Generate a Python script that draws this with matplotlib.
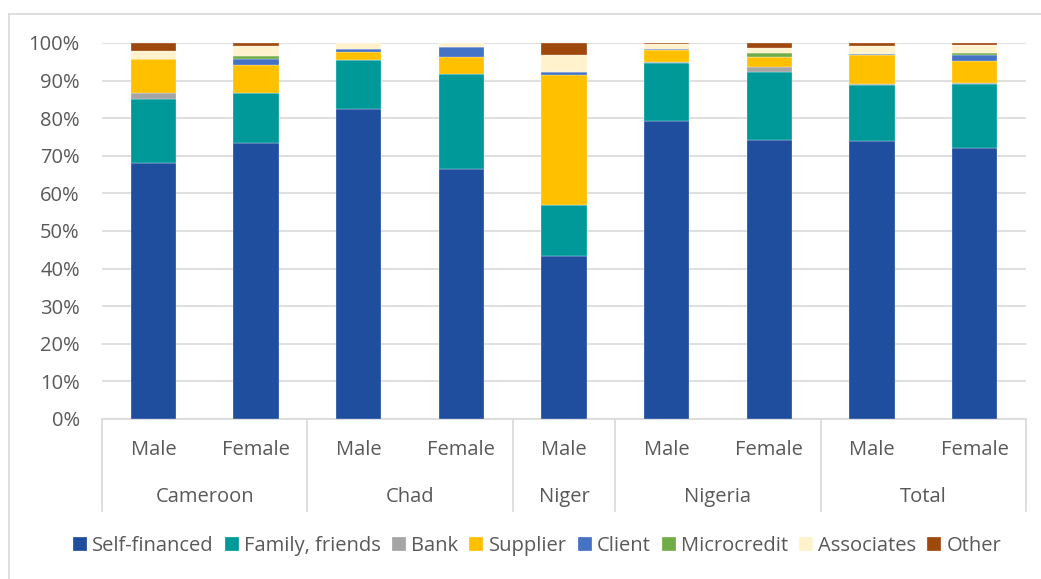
import numpy as np
import matplotlib
matplotlib.use("Agg")
import matplotlib.pyplot as plt
from matplotlib.transforms import blended_transform_factory

plt.rcParams['font.family'] = ['Open Sans', 'DejaVu Sans']

countries = ["Cameroon", "Chad", "Niger", "Nigeria", "Total"]
genders = ["Male", "Female", "Male", "Female", "Male", "Male", "Female", "Male", "Female"]
group_sizes = [2, 2, 1, 2, 2]

sources = ["Self-financed", "Family, friends", "Bank", "Supplier", "Client",
           "Microcredit", "Associates", "Other"]
colors = ["#1F4E9F", "#00999A", "#A5A5A5", "#FFC000", "#4472C4",
          "#70AD47", "#FFF2CC", "#9E480E"]

# percent per bar: Cam M, Cam F, Chad M, Chad F, Niger M, Nig M, Nig F, Tot M, Tot F
self_fin   = [68.0, 73.3, 82.5, 66.5, 43.3, 79.3, 74.3, 74.0, 72.0]
family     = [17.0, 13.3, 13.0, 25.2, 13.7, 15.5, 18.0, 14.9, 17.2]
bank       = [1.6, 0.0, 0.0, 0.0, 0.0, 0.2, 1.3, 0.3, 0.2]
supplier   = [9.1, 7.6, 2.1, 4.7, 34.6, 3.2, 2.6, 7.6, 5.8]
client     = [0.0, 1.6, 0.7, 2.5, 0.7, 0.3, 0.0, 0.4, 1.5]
microcred  = [0.0, 0.7, 0.0, 0.0, 0.0, 0.0, 1.2, 0.0, 0.7]
associates = [2.2, 2.8, 1.7, 1.1, 4.5, 1.3, 1.4, 2.0, 2.0]
other      = [2.1, 0.7, 0.0, 0.0, 3.2, 0.2, 1.2, 0.8, 0.6]
series = [self_fin, family, bank, supplier, client, microcred, associates, other]

W, H = 1041, 579
fig = plt.figure(figsize=(W / 100, H / 100), dpi=100)
ax = fig.add_axes([102 / W, 1 - 419 / H, (1026 - 102) / W, (419 - 43) / H])

x = np.arange(len(genders))
bottom = np.zeros(len(genders))
for name, vals, col in zip(sources, series, colors):
    v = np.array(vals) / 100
    ax.bar(x, v, width=0.44, bottom=bottom, color=col, label=name,
           edgecolor="white", linewidth=0.2, zorder=3)
    bottom += v

ax.set_xlim(-0.5, len(genders) - 0.5)
ax.set_ylim(0, 1)
ax.set_yticks(np.arange(0, 1.01, 0.1))
ax.set_yticklabels([f"{int(round(t * 100))}%" for t in np.arange(0, 1.01, 0.1)])
ax.yaxis.grid(True, color="#D9D9D9", linewidth=1.2, zorder=0)
ax.tick_params(axis="y", length=0, pad=16, labelsize=14.5, labelcolor="#595959")
ax.set_xticks([])
for s in ["top", "right", "left"]:
    ax.spines[s].set_visible(False)
ax.spines["bottom"].set_color("#D9D9D9")
ax.spines["bottom"].set_linewidth(1.2)

# multi-level category axis
tr = blended_transform_factory(ax.transData, ax.transAxes)
for xi, g in zip(x, genders):
    ax.text(xi, -0.082, g, transform=tr, ha="center", va="center",
            fontsize=14.5, color="#595959")
edges = [-0.5]
for n in group_sizes:
    edges.append(edges[-1] + n)
for e in edges:
    ax.plot([e, e], [0, -0.245], transform=tr, color="#D9D9D9",
            linewidth=1.2, clip_on=False)
for i, c in enumerate(countries):
    ax.text((edges[i] + edges[i + 1]) / 2, -0.207, c, transform=tr,
            ha="center", va="center", fontsize=14.5, color="#595959")

leg = fig.legend(loc="center", bbox_to_anchor=(0.516, 1 - 546 / H), ncol=8,
                 frameon=False, fontsize=14.5, handlelength=0.7, handleheight=0.7,
                 handletextpad=0.25, columnspacing=0.55)
for t in leg.get_texts():
    t.set_color("#595959")

# chart border
fig.add_artist(plt.Line2D([9 / W, 9 / W], [0, 1 - 14 / H], color="#D9D9D9",
                          linewidth=1.2, transform=fig.transFigure))
fig.add_artist(plt.Line2D([9 / W, 1], [1 - 14 / H, 1 - 14 / H], color="#D9D9D9",
                          linewidth=1.2, transform=fig.transFigure))

fig.savefig("out.png", dpi=100)
